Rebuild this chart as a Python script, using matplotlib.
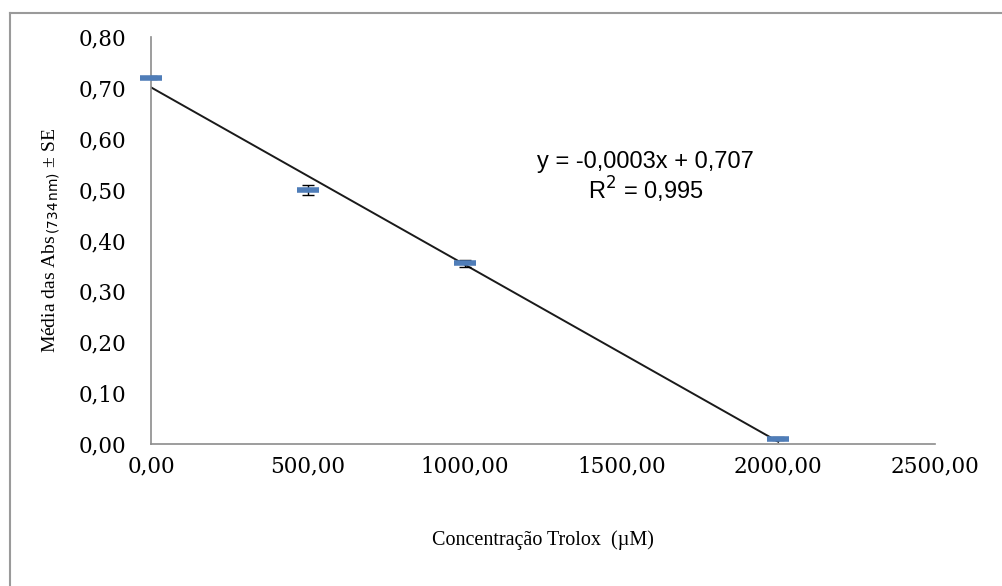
"""Curva padrão do Trolox (ABTS): absorbância média vs concentração."""

import numpy as np
import matplotlib.pyplot as plt
from matplotlib.lines import Line2D

conc = [0, 500, 1000, 2000]
abs_mean = [0.72, 0.50, 0.355, 0.01]
abs_se = [0.003, 0.010, 0.007, 0.003]

x_ticks = [0, 500, 1000, 1500, 2000, 2500]
y_ticks = [0.0, 0.1, 0.2, 0.3, 0.4, 0.5, 0.6, 0.7, 0.8]

eq_text = "y = -0,0003x + 0,707"
r2_text = "R$^2$ = 0,995"


def fmt(v):
    return f"{v:.2f}".replace(".", ",")


fig = plt.figure(figsize=(10.02, 5.86), dpi=100)
ax = fig.add_axes([0.1507, 0.2423, 0.7825, 0.6946])

# linha de tendência (mínimos quadrados)
slope, intercept = np.polyfit(conc, abs_mean, 1)
xl = np.array([conc[0], conc[-1]])
ax.plot(xl, slope * xl + intercept, color="#1a1a1a", lw=1.4, zorder=2)

ax.errorbar(conc, abs_mean, yerr=abs_se, fmt="none", ecolor="black",
            elinewidth=1.0, capsize=4, capthick=1.0, zorder=3)
ax.plot(conc, abs_mean, ls="none", marker="_", ms=16, mew=4,
        color="#4f7db8", zorder=4, clip_on=False)

ax.set_xlim(0, 2500)
ax.set_ylim(0, 0.8)
ax.set_xticks(x_ticks)
ax.set_yticks(y_ticks)
ax.set_xticklabels([fmt(v) for v in x_ticks], fontsize=15.5,
                   family="DejaVu Serif")
ax.set_yticklabels([fmt(v) for v in y_ticks], fontsize=15.5,
                   family="DejaVu Serif")
ax.tick_params(length=0)
ax.tick_params(axis="x", pad=8)
ax.tick_params(axis="y", pad=18)

for side in ["top", "right"]:
    ax.spines[side].set_visible(False)
for side in ["left", "bottom"]:
    ax.spines[side].set_color("#8c8c8c")
    ax.spines[side].set_linewidth(1.2)

ax.set_xlabel("Concentração Trolox  (µM)", fontsize=14.5,
              family="Liberation Serif", labelpad=38)
ax.set_ylabel("Média das Abs$_{\\,\\mathrm{(734\\,nm)}}$ ± SE", fontsize=14,
              family="Liberation Serif", labelpad=12)

ax.text(0.631, 0.678, eq_text, transform=ax.transAxes, ha="center",
        fontsize=17, family="Liberation Sans")
ax.text(0.631, 0.600, r2_text, transform=ax.transAxes, ha="center",
        fontsize=17, family="Liberation Sans")

# moldura externa (cortada à direita e embaixo)
fig.add_artist(Line2D([0.010, 0.010], [0.0, 0.978], color="#9a9a9a",
                      lw=1.5, transform=fig.transFigure))
fig.add_artist(Line2D([0.010, 1.0], [0.978, 0.978], color="#9a9a9a",
                      lw=1.5, transform=fig.transFigure))

plt.savefig("out.png", dpi=100)
plt.close()
